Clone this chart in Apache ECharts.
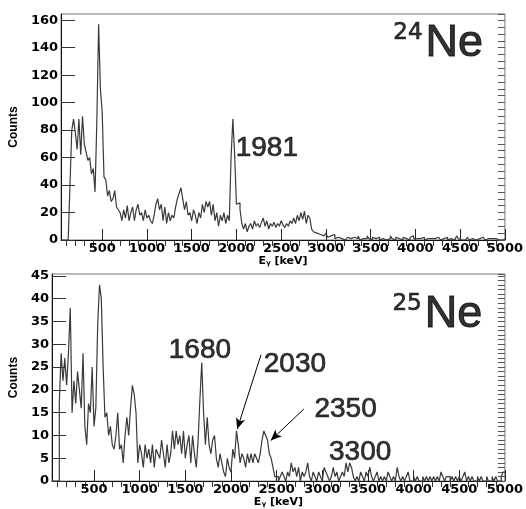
<!DOCTYPE html>
<html>
<head>
<meta charset="utf-8">
<script src="https://cdn.jsdelivr.net/npm/echarts@6/dist/echarts.min.js"></script>
<style>
  html, body { margin: 0; padding: 0; background: #fff; }
  #chart { width: 526px; height: 509px; }
</style>
</head>
<body>
<div id="chart"></div>
<script>
// binning of both gamma spectra, keV
const binStart = 40;
const binWidth = 20;
const energyMax = 5000;

// axis ticks
const energyTicks = [500, 1000, 1500, 2000, 2500, 3000, 3500, 4000, 4500, 5000];

// 24Ne spectrum, counts per 20 keV bin starting at 40 keV
const ne24Counts = [
    0, 0, 0, 0, 0, 40, 80, 88, 78, 66,
    88, 62, 90, 70, 64, 58, 60, 48, 52, 35,
    86, 157, 110, 93, 46, 44, 32, 36, 28, 30,
    36, 24, 22, 20, 14, 22, 16, 25, 14, 20,
    24, 14, 22, 26, 18, 20, 14, 22, 16, 18,
    14, 12, 18, 26, 30, 22, 26, 14, 24, 12,
    20, 14, 18, 16, 24, 30, 34, 38, 30, 22,
    28, 18, 20, 14, 22, 18, 12, 20, 16, 26,
    20, 28, 24, 28, 18, 26, 14, 20, 10, 18,
    14, 20, 12, 18, 14, 60, 88, 62, 26, 27,
    22, 12, 8, 12, 6, 10, 12, 8, 14, 10,
    12, 9, 13, 16, 10, 14, 8, 12, 10, 13,
    9, 12, 10, 14, 11, 9, 12, 10, 14, 12,
    16, 12, 18, 14, 20, 15, 21, 12, 18, 16,
    8, 6, 5, 6, 4, 5, 3, 4, 5, 2,
    3, 2, 4, 1, 2, 1, 1, 2, 0, 1,
    2, 1, 0, 2, 1, 1, 3, 0, 1, 2,
    1, 3, 1, 0, 2, 1, 1, 2, 0, 1,
    2, 0, 1, 1, 3, 1, 0, 2, 1, 1,
    0, 2, 1, 1, 0, 2, 3, 1, 1, 0,
    1, 1, 2, 0, 1, 2, 1, 0, 1, 1,
    2, 1, 0, 1, 1, 2, 0, 1, 1, 0,
    1, 3, 1, 0, 1, 0, 1, 2, 0, 1,
    1, 0, 1, 1, 0, 2, 1, 0, 1, 0,
    1, 0, 1, 2, 0, 1, 0, 1
];

// 25Ne spectrum, same binning
const ne25Counts = [
    0, 0, 0, 0, 17, 28, 22, 27, 21, 28,
    38, 15, 22, 17, 24, 20, 16, 28, 12, 8,
    17, 15, 25, 12, 16, 34, 43, 40, 25, 14,
    15, 10, 12, 8, 7, 10, 15, 7, 8, 4,
    10, 14, 10, 16, 21, 19, 15, 4, 8, 6,
    3, 8, 5, 7, 4, 8, 3, 7, 6, 5,
    9, 6, 3, 8, 4, 6, 11, 7, 11, 8,
    10, 6, 11, 5, 8, 10, 4, 10, 6, 3,
    9, 18, 26, 15, 8, 14, 8, 6, 9, 10,
    5, 3, 6, 4, 2, 1, 5, 3, 2, 7,
    5, 11, 8, 4, 6, 5, 3, 6, 4, 6,
    4, 6, 5, 4, 6, 9, 11, 10, 9, 6,
    5, 3, 1, 1, 0, 1, 2, 1, 0, 2,
    1, 4, 2, 3, 1, 3, 0, 2, 1, 2,
    4, 1, 0, 2, 1, 0, 2, 1, 0, 3,
    2, 1, 0, 1, 3, 1, 2, 0, 1, 2,
    1, 4, 2, 4, 3, 1, 0, 1, 0, 2,
    1, 0, 2, 1, 3, 1, 0, 1, 2, 0,
    1, 0, 1, 0, 2, 1, 0, 1, 0, 3,
    1, 0, 1, 0, 1, 2, 0, 0, 1, 0,
    1, 0, 0, 1, 0, 1, 0, 1, 0, 1,
    0, 1, 0, 2, 1, 0, 1, 1, 0, 1,
    0, 1, 0, 1, 0, 1, 2, 0, 1, 0,
    1, 0, 0, 1, 0, 1, 0, 0, 1, 0,
    0, 1, 0, 1, 0, 0, 1, 2
];

// peak labels: [energy, counts, text]
const ne24Notes = [[2340, 67, '1981']];
const ne25Notes = [[1660, 28.7, '1680'], [2700, 25.5, '2030'], [3255, 15.8, '2350'], [3415, 6.4, '3300']];
// arrows: [fromE, fromCounts, toE, toCounts]
const ne25Arrows = [[2329, 27.7, 2068, 11.4], [2798, 15.8, 2435, 8.9]];
// nucleus names: [energy, counts, mass number, element]
const ne24Name = [4255, 143, '24', 'Ne'];
const ne25Name = [4260, 36.4, '25', 'Ne'];

(function (echarts) {
    'use strict';

    const tickFont = 'DejaVu Sans';
    const noteFont = 'Liberation Sans';

    const minorTicks = [];
    for (let e = 100; e < energyMax; e += 100) {
        if (e % 500 !== 0) minorTicks.push(e);
    }

    // histogram -> step line points (left bin edges, plus closing edge)
    function toSteps(counts) {
        const pts = counts.map((v, i) => [binStart + i * binWidth, v]);
        pts.push([energyMax, counts[counts.length - 1]]);
        return pts;
    }

    function energyAxes(gridIndex) {
        const base = {
            type: 'value', gridIndex: gridIndex, min: binStart, max: energyMax,
            splitLine: {show: false}
        };
        return [
            Object.assign({}, base, {
                name: '{e|E}{g|γ}{e| [keV]}',
                nameLocation: 'middle',
                nameGap: 10,
                nameTextStyle: {
                    rich: {
                        e: {fontFamily: tickFont, fontWeight: 'bold', fontSize: 11, color: '#000'},
                        g: {fontFamily: tickFont, fontWeight: 'bold', fontSize: 7, color: '#000', verticalAlign: 'bottom'}
                    }
                },
                axisLine: {show: true, lineStyle: {color: '#111', width: 1}},
                axisTick: {show: true, inside: true, length: 11, customValues: energyTicks, lineStyle: {color: '#222'}},
                axisLabel: {
                    customValues: energyTicks, margin: 2, color: '#000',
                    fontFamily: tickFont, fontWeight: 'bold', fontSize: 13,
                    formatter: v => String(v)
                }
            }),
            Object.assign({}, base, {
                axisLine: {show: false},
                axisTick: {show: true, inside: true, length: 6, customValues: minorTicks, lineStyle: {color: '#333'}},
                axisLabel: {show: false}
            })
        ];
    }

    function countAxes(gridIndex, max, major, minor) {
        return [
            {
                type: 'value', gridIndex: gridIndex, min: 0, max: max, interval: major,
                name: 'Counts', nameLocation: 'middle', nameGap: 28,
                nameTextStyle: {fontFamily: 'Liberation Sans', fontWeight: 'bold', fontSize: 12, color: '#000'},
                splitLine: {show: false},
                axisLine: {show: true, lineStyle: {color: '#111', width: 1}},
                axisTick: {show: true, inside: true, length: 14, lineStyle: {color: '#333'}},
                axisLabel: {
                    showMaxLabel: false, margin: 3, color: '#000',
                    fontFamily: tickFont, fontWeight: 'bold', fontSize: 13
                }
            },
            {
                type: 'value', gridIndex: gridIndex, min: 0, max: max, interval: minor,
                splitLine: {show: false},
                axisLine: {show: false},
                axisTick: {show: true, inside: true, length: 7, lineStyle: {color: '#555'}},
                axisLabel: {show: false}
            }
        ];
    }

    function spectrum(idx, counts) {
        return {
            type: 'line', xAxisIndex: idx * 2, yAxisIndex: idx * 2,
            step: 'end', symbol: 'none', silent: true,
            lineStyle: {color: '#3a3a3a', width: 1.2},
            data: toSteps(counts)
        };
    }

    function notes(idx, list, name, arrows) {
        const data = list.map(n => ({value: [n[0], n[1]], text: n[2]}));
        data.push({
            value: [name[0], name[1]],
            text: '{s|' + name[2] + '}{n|' + name[3] + '}'
        });
        // thin black outline thickens the strokes a little
        const ink = {color: '#000', textBorderColor: '#000', textBorderWidth: 0.7};
        const s = {
            type: 'scatter', xAxisIndex: idx * 2, yAxisIndex: idx * 2,
            symbolSize: 0, silent: true,
            label: Object.assign({
                show: true, position: 'inside',
                fontFamily: noteFont, fontSize: 28,
                formatter: p => p.data.text,
                rich: {
                    s: Object.assign({fontFamily: 'DejaVu Sans', fontSize: 23, verticalAlign: 'top'}, ink),
                    n: Object.assign({fontFamily: noteFont, fontSize: 45, padding: [0, 0, 0, 3]}, ink, {textBorderWidth: 1})
                }
            }, ink),
            data: data
        };
        if (arrows) {
            s.markLine = {
                silent: true, animation: false,
                symbol: ['none', 'arrow'], symbolSize: [7, 11],
                label: {show: false},
                lineStyle: {color: '#000', width: 1, type: 'solid'},
                data: arrows.map(a => [{coord: [a[0], a[1]]}, {coord: [a[2], a[3]]}])
            };
        }
        return s;
    }

    const chart = echarts.init(document.getElementById('chart'));

    chart.setOption({
        animation: false,
        backgroundColor: '#fff',
        grid: [
            {left: 52, top: 14, width: 455, height: 226, show: true, borderColor: '#777', borderWidth: 1},
            {left: 52, top: 274, width: 455, height: 215, show: true, borderColor: '#777', borderWidth: 1}
        ],
        xAxis: energyAxes(0).concat(energyAxes(1)),
        yAxis: countAxes(0, 164.5, 20, 5).concat(countAxes(1, 45.4, 5, 1)),
        series: [
            spectrum(0, ne24Counts),
            spectrum(1, ne25Counts),
            notes(0, ne24Notes, ne24Name, null),
            notes(1, ne25Notes, ne25Name, ne25Arrows)
        ]
    });
})(echarts);
</script>
</body>
</html>
